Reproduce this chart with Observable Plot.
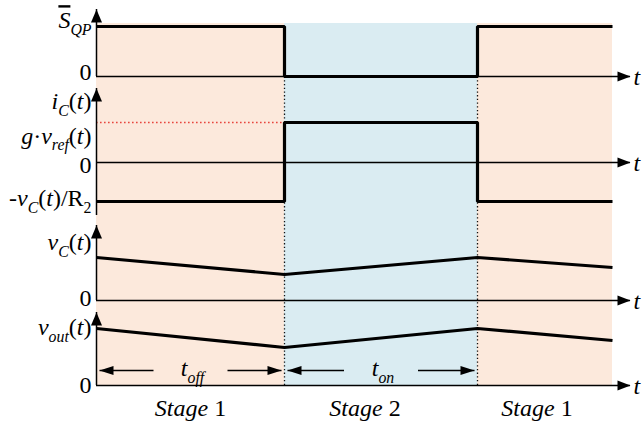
<!DOCTYPE html>
<html>
<head>
<meta charset="utf-8">
<script src="https://cdn.jsdelivr.net/npm/d3@7"></script>
<script src="https://cdn.jsdelivr.net/npm/@observablehq/plot@0.6"></script>
<style>
  body { margin: 0; background: #fff; }
  svg { display: block; }
  #chart svg text, #chart svg tspan { font-family: "Liberation Serif", Tinos, "DejaVu Serif", serif !important; }
</style>
</head>
<body>
<div id="chart"></div>
<script>
// Switching edges of one cycle (arbitrary time units)
const edges = [0, 1.88, 3.81, 5.16];
const stageNames = ["Stage 1", "Stage 2", "Stage 1"];
const stageModes = ["off", "on", "off"];
const durationLabels = ["t_off", "t_on"];

// Gate signal S̄_QP in each stage
const sqpLevels = [1, 0, 1];

// Capacitor current in each stage
const gVref = 0.8;       // g·v_ref(t)
const vcOverR2 = 0.78;   // v_C(t)/R2
const icLevels = [-vcOverR2, gVref, -vcOverR2];

// Voltages at each switching edge
const vcValues = [0.86, 0.52, 0.86, 0.66];
const voutValues = [1.14, 0.76, 1.14, 0.9];

// ---- layout of the stacked panels (units of the shared y scale) ----
const panels = [
  {key: "sqp",  base: 6.18, low: 6.18, tip: 7.52, titleY: 7.30, title: "S_QP", zeroLift: 0.08},
  {key: "ic",   base: 4.46, low: 3.40, tip: 5.94, titleY: 5.68, title: "i_C(t)", zeroLift: -0.05},
  {key: "vc",   base: 1.70, low: 1.70, tip: 3.20, titleY: 2.86, title: "v_C(t)", zeroLift: 0.04},
  {key: "vout", base: 0.00, low: 0.00, tip: 1.46, titleY: 1.16, title: "v_out(t)", zeroLift: 0}
];
const gvrefLabelLift = -0.27;
const dischargeLabelLift = 0.06;
const shadeTop = 7.24;
const timeAxisEnd = 5.34;
const labelX = -0.05;
const durationY = 0.3;
const stageLabelY = -0.46;
const stageLabelShift = [0, -0.16, -0.08];
const modeFill = {off: "#fce9dc", on: "#daecf2"};

// rich-text pieces for labels with italics, subscripts and overline
const rich = {
  "S_QP":        [{s: "S", i: 1, over: 1}, {s: "QP", i: 1, sub: 1}],
  "i_C(t)":      [{s: "i", i: 1}, {s: "C", i: 1, sub: 1}, {s: "("}, {s: "t", i: 1}, {s: ")"}],
  "gvref":       [{s: "g", i: 1}, {s: "·"}, {s: "v", i: 1}, {s: "ref", i: 1, sub: 1}, {s: "("}, {s: "t", i: 1}, {s: ")"}],
  "-vC/R2":      [{s: "-"}, {s: "v", i: 1}, {s: "C", i: 1, sub: 1}, {s: "("}, {s: "t", i: 1}, {s: ")/R"}, {s: "2", sub: 1}],
  "v_C(t)":      [{s: "v", i: 1}, {s: "C", i: 1, sub: 1}, {s: "("}, {s: "t", i: 1}, {s: ")"}],
  "v_out(t)":    [{s: "v", i: 1}, {s: "out", i: 1, sub: 1}, {s: "("}, {s: "t", i: 1}, {s: ")"}],
  "t_off":       [{s: "t", i: 1}, {s: "off", i: 1, sub: 1}],
  "t_on":        [{s: "t", i: 1}, {s: "on", i: 1, sub: 1}],
  "t":           [{s: "t", i: 1}],
  "Stage 1":     [{s: "Stage", i: 1}, {s: " 1"}],
  "Stage 2":     [{s: "Stage", i: 1}, {s: " 2"}]
};

// ---- derived mark data ----
const stages = stageNames.map((name, i) => ({
  name, mode: stageModes[i], t0: edges[i], t1: edges[i + 1], mid: (edges[i] + edges[i + 1]) / 2
}));

function steps(levels, base) {
  return levels.flatMap((v, i) => [
    {t: edges[i], v: base + v},
    {t: edges[i + 1], v: base + v}
  ]);
}
function ramps(values, base) {
  return edges.map((t, i) => ({t, v: base + values[i]}));
}

const sqpTrace = steps(sqpLevels, panels[0].base);
const icTrace = steps(icLevels, panels[1].base);
const vcTrace = ramps(vcValues, panels[2].base);
const voutTrace = ramps(voutValues, panels[3].base);

const levelLabels = [
  ...panels.map(p => ({y: p.base + p.zeroLift, text: "0"})),
  {y: panels[1].base + gVref + gvrefLabelLift, text: "gvref"},
  {y: panels[1].base - vcOverR2 + dischargeLabelLift, text: "-vC/R2"},
  ...panels.map(p => ({y: p.titleY, text: p.title}))
];

const durations = durationLabels.map((label, i) => ({label, ...stages[i]}));
const gap = 0.37, inset = 0.03;
const durationLines = durations.flatMap(d => [
  {x1: d.mid - gap, x2: d.t0 + inset},
  {x1: d.mid + gap, x2: d.t1 - inset}
]);
const durationHeads = durations.flatMap(d => [
  {x: d.t0 + inset, dir: "left"},
  {x: d.t1 - inset, dir: "right"}
]);

// filled arrowheads with the tip at the anchor point
function head(dir, L = 13, W = 10) {
  return {
    draw(ctx) {
      const p = {
        up:    [[0, 0], [-W / 2, L], [W / 2, L]],
        right: [[0, 0], [-L, -W / 2], [-L, W / 2]],
        left:  [[0, 0], [L, -W / 2], [L, W / 2]]
      }[dir];
      ctx.moveTo(p[0][0], p[0][1]);
      ctx.lineTo(p[1][0], p[1][1]);
      ctx.lineTo(p[2][0], p[2][1]);
      ctx.closePath();
    }
  };
}

const font = {fontFamily: "Liberation Serif", fontSize: 24};
const traceStyle = {x: "t", y: "v", stroke: "black", strokeWidth: 3.2, strokeLinejoin: "miter", strokeLinecap: "butt"};

const chart = Plot.plot({
  width: 642,
  height: 422,
  marginLeft: 96,
  marginRight: 30,
  marginTop: 20,
  marginBottom: 37,
  x: {domain: [0, edges[3]], axis: null},
  y: {domain: [0, 7.3], axis: null},
  color: {type: "identity"},
  style: {background: "#fff", overflow: "visible"},
  marks: [
    // stage shading
    Plot.rect(stages, {x1: "t0", x2: "t1", y1: 0, y2: shadeTop, fill: d => modeFill[d.mode]}),
    // switching instants
    Plot.ruleX(edges.slice(1, 3), {y1: 0, y2: panels[0].base, stroke: "#111", strokeWidth: 1.3, strokeDasharray: "1.3,2.4"}),
    // reference current level
    Plot.ruleY([panels[1].base + gVref], {x1: 0, x2: edges[1], stroke: "#e8453c", strokeWidth: 1.5, strokeDasharray: "1.6,2.4"}),
    // time axes
    Plot.ruleY(panels, {y: "base", x1: 0, x2: timeAxisEnd, stroke: "black", strokeWidth: 1.5}),
    Plot.dot(panels, {x: timeAxisEnd, y: "base", symbol: head("right"), fill: "black", stroke: "none"}),
    Plot.text(panels, {x: timeAxisEnd + 0.03, y: "base", text: () => "t", textAnchor: "start", dy: 1, ...font}),
    // vertical axes
    Plot.ruleX(panels, {x: 0, y1: "low", y2: "tip", stroke: "black", strokeWidth: 1.5}),
    Plot.dot(panels, {x: 0, y: "tip", symbol: head("up", 13, 11), fill: "black", stroke: "none"}),
    // waveforms
    Plot.line(sqpTrace, traceStyle),
    Plot.line(icTrace, traceStyle),
    Plot.line(vcTrace, traceStyle),
    Plot.line(voutTrace, traceStyle),
    // duration arrows
    Plot.link(durationLines, {x1: "x1", x2: "x2", y1: durationY, y2: durationY, stroke: "black", strokeWidth: 1.5}),
    Plot.dot(durationHeads.filter(d => d.dir === "left"), {x: "x", y: durationY, symbol: head("left", 14, 9), fill: "black", stroke: "none"}),
    Plot.dot(durationHeads.filter(d => d.dir === "right"), {x: "x", y: durationY, symbol: head("right", 14, 9), fill: "black", stroke: "none"}),
    Plot.text(durations, {x: d => d.mid + 0.02, y: durationY, text: "label", dy: -2, ...font}),
    // level and signal labels
    Plot.text(levelLabels, {x: labelX, y: "y", text: "text", textAnchor: "end", ...font}),
    // stage names
    Plot.text(stages, {x: (d, i) => d.mid + stageLabelShift[i], y: stageLabelY, text: "name", ...font})
  ]
});

document.getElementById("chart").append(chart);

// turn label keys into styled text runs
d3.select(chart).selectAll("text").each(function () {
  const segs = rich[this.textContent];
  if (!segs) return;
  const size = 24, shift = size * 0.28;
  const el = d3.select(this);
  el.text(null);
  let lowered = false;
  for (const seg of segs) {
    const ts = el.append("tspan").text(seg.s);
    if (seg.i) ts.attr("font-style", "italic");
    if (seg.over) ts.style("text-decoration", "overline");
    if (seg.sub) {
      ts.attr("font-size", size * 0.66);
      if (!lowered) { ts.attr("dy", shift); lowered = true; }
    } else if (lowered) {
      ts.attr("dy", -shift);
      lowered = false;
    }
  }
});
</script>
</body>
</html>
